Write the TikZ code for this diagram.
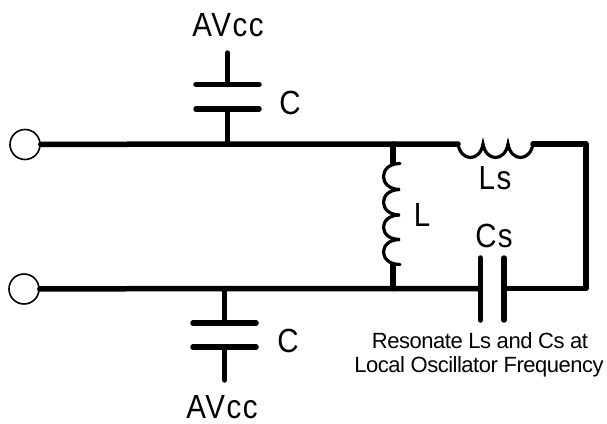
\documentclass[tikz,border=0pt]{standalone}
\usepackage{fontspec}
\setmainfont{Liberation Sans}
\newfontfamily\labfont[LetterSpace=5]{Liberation Sans}
\newfontfamily\notefont[LetterSpace=-2.2]{Liberation Sans}
\tikzset{
 wire/.style={line width=5.5pt,line cap=round,line join=round},
 term/.style={circle,draw,line width=1.6pt,fill=white,minimum size=30pt,inner sep=0pt},
 lab/.style={inner sep=0pt,anchor=base,font=\labfont\fontsize{33.5}{33.5}\selectfont,xscale=0.88},
 note/.style={inner sep=0pt,anchor=base,font=\notefont\fontsize{22}{22}\selectfont},
 coil/.style={line width=3.2pt,line cap=round}
}
\begin{document}
\begin{tikzpicture}[x=1pt,y=-1pt]
\useasboundingbox (0,0) rectangle (607,423);
\fill[white] (0,0) rectangle (607,423);
% junctions and free ends
\coordinate (tj) at (227.5,144);
\coordinate (bj) at (224.5,288.5);
\coordinate (lt) at (393,144);
\coordinate (lb) at (393,288.5);
\coordinate (lst) at (458,144);
\coordinate (lse) at (533,144);
\coordinate (tr) at (586,144);
\coordinate (br) at (586,288.5);
\coordinate (l1) at (393,163);
\coordinate (l2) at (393,265);
\node[term] (t1) at (25,144.5) {};
\node[term] (t2) at (24,289) {};
% wires
\draw[wire] (t1) -- (tj) -- (lst);
\draw[wire] (lse) -- (tr) -- (br) -- (504,288.5);
\draw[wire] (t2) -- (bj) -- (480,288.5);
\draw[wire] (lt) -- (l1);
\draw[wire] (l2) -- (lb);
% top C
\coordinate (a1) at (227.5,53);
\coordinate (a2) at (227.5,84.5);
\coordinate (a3) at (227.5,109);
\draw[wire] (a1) -- (a2);
\draw[wire] (a3) -- (tj);
\draw[wire] (196,84.5) -- (259,84.5);
\draw[wire] (196,109) -- (259,109);
% bottom C
\coordinate (b1) at (224.5,323);
\coordinate (b2) at (224.5,347);
\coordinate (b3) at (224.5,380);
\draw[wire] (bj) -- (b1);
\draw[wire] (b2) -- (b3);
\draw[wire] (193,323) -- (256,323);
\draw[wire] (193,347) -- (256,347);
% Cs
\draw[wire] (480.3,258) -- (480.3,320);
\draw[wire] (504,258) -- (504,320);
% L coil
\draw[coil] (400,163.5) .. controls (378,163.5) and (378,189.5) .. (400,189.5)
 .. controls (378,189.5) and (378,215) .. (400,215)
 .. controls (378,215) and (378,239.5) .. (400,239.5)
 .. controls (378,239.5) and (378,264.5) .. (400,264.5);
% Ls coil
\draw[coil] (lst) .. controls (461,162) and (480,162) .. (483,144)
 .. controls (486,162) and (505,162) .. (508,144)
 .. controls (511,162) and (530,162) .. (lse);
% labels
\node[lab] (n1) at (228,36.5) {AVcc};
\node[lab] (n2) at (222,418.5) {AVcc};
\node[lab] (n3) at (290,114.5) {C};
\node[lab] (n4) at (288,352) {C};
\node[lab] (n5) at (422,226) {L};
\node[lab] (n6) at (495,189) {Ls};
\node[lab] (n7) at (494,247.5) {Cs};
\node[note] (n8) at (480,348) {Resonate Ls and Cs at};
\node[note] (n9) at (479,372) {Local Oscillator Frequency};
\end{tikzpicture}
\end{document}
